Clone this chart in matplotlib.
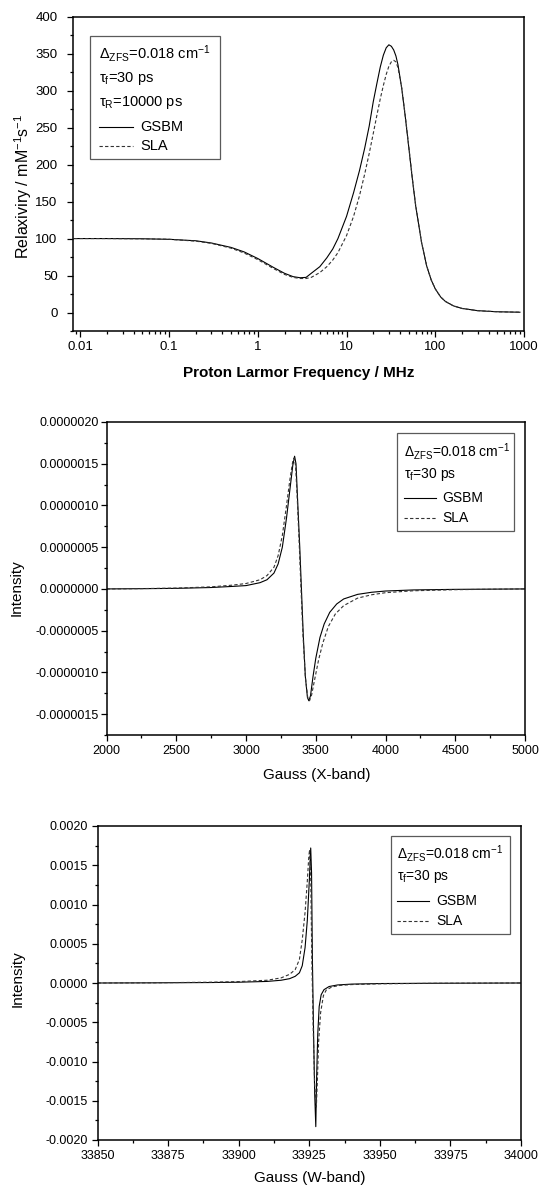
import matplotlib

matplotlib.use("Agg")
import matplotlib.pyplot as plt
from matplotlib.lines import Line2D
from matplotlib.patches import Rectangle
from matplotlib.ticker import FormatStrFormatter, FuncFormatter, LogLocator, MultipleLocator, NullFormatter

plt.rcParams["font.family"] = ["Liberation Sans", "DejaVu Sans"]
plt.rcParams["mathtext.fontset"] = "custom"
plt.rcParams["mathtext.rm"] = "Liberation Sans"
plt.rcParams["mathtext.it"] = "Liberation Sans:italic"
plt.rcParams["axes.unicode_minus"] = False

# --- NMRD profile (top panel) ---
freq_mhz = [0.0085, 0.02, 0.05, 0.1, 0.2, 0.3, 0.5, 0.7, 1.0, 1.5, 2.0, 2.5, 3.0, 3.5, 4, 5, 6, 7, 8,
            10, 12, 14, 16, 18, 20, 22, 24, 26, 28, 30, 32, 34, 36, 38, 42, 46, 50, 55, 60, 70, 80,
            90, 100, 115, 130, 160, 200, 300, 500, 900]
relax_gsbm = [100, 100, 99.7, 99, 97, 94, 88, 82, 73, 61, 53, 48.5, 47, 47.5, 53, 62, 74, 86, 100,
              130, 162, 192, 222, 252, 285, 310, 332, 348, 358, 362, 360, 355, 347, 335, 302, 264, 226,
              182, 145, 95, 63, 44, 32, 21, 15, 9, 5.5, 2.5, 1, 0.4]
relax_sla = [100, 100, 99.7, 99, 96.5, 93.5, 87, 80.5, 71.5, 59.5, 51.5, 47.5, 46, 46, 47.5, 54, 62, 71,
             81, 104, 130, 158, 187, 215, 242, 267, 289, 307, 322, 333, 339, 341, 339, 331, 303, 265,
             227, 183, 146, 95, 63, 44, 32, 21, 15, 9, 5.5, 2.5, 1, 0.4]

# --- X-band EPR spectrum (middle panel), intensity in 1e-6 ---
xband_gauss_gsbm = [2000, 2250, 2500, 2750, 2900, 3000, 3100, 3150, 3200, 3230, 3260, 3290, 3315, 3335,
                    3348, 3358, 3370, 3385, 3397, 3410, 3425, 3440, 3450, 3462, 3480, 3500, 3530, 3560,
                    3600, 3650, 3700, 3800, 3900, 4000, 4200, 4500, 4800, 5000]
xband_gsbm = [0.0, 0.003, 0.007, 0.017, 0.030, 0.040, 0.075, 0.11, 0.19, 0.30, 0.50, 0.85, 1.20, 1.48,
              1.59, 1.50, 1.05, 0.50, 0.0, -0.55, -1.05, -1.30, -1.34, -1.28, -1.05, -0.83, -0.58, -0.42,
              -0.28, -0.18, -0.12, -0.065, -0.04, -0.025, -0.012, -0.005, -0.002, 0.0]
xband_gauss_sla = [2000, 2250, 2500, 2750, 2900, 3000, 3100, 3150, 3200, 3230, 3260, 3290, 3315, 3335,
                   3345, 3355, 3368, 3382, 3394, 3408, 3425, 3442, 3455, 3470, 3490, 3520, 3550, 3590,
                   3640, 3700, 3800, 3900, 4000, 4200, 4500, 4800, 5000]
xband_sla = [0.0, 0.004, 0.010, 0.025, 0.045, 0.065, 0.11, 0.16, 0.26, 0.40, 0.64, 1.00, 1.32, 1.53,
             1.57, 1.48, 1.05, 0.50, 0.0, -0.55, -1.05, -1.30, -1.34, -1.27, -1.10, -0.85, -0.65, -0.45,
             -0.30, -0.20, -0.11, -0.07, -0.045, -0.022, -0.009, -0.003, 0.0]

# --- W-band EPR spectrum (bottom panel), intensity in 1e-3 ---
wband_gauss_gsbm = [33850, 33870, 33890, 33900, 33910, 33915, 33918, 33920, 33921.5, 33922.5, 33923.5,
                    33924.3, 33925.0, 33925.5, 33925.8, 33926.1, 33926.5, 33926.9, 33927.3, 33927.6,
                    33928.0, 33928.5, 33929.2, 33930.2, 33932, 33935, 33940, 33950, 33970, 34000]
wband_gsbm = [0.0, 0.002, 0.006, 0.010, 0.020, 0.035, 0.055, 0.085, 0.13, 0.22, 0.45, 0.80, 1.30, 1.72,
              1.40, 0.30, -0.60, -1.40, -1.83, -1.20, -0.65, -0.30, -0.15, -0.085, -0.045, -0.025,
              -0.014, -0.007, -0.003, 0.0]
wband_gauss_sla = [33850, 33870, 33890, 33900, 33910, 33915, 33918, 33920, 33921.5, 33922.5, 33923.5,
                   33924.3, 33924.8, 33925.1, 33925.5, 33925.9, 33926.4, 33926.9, 33927.5, 33927.9,
                   33928.3, 33929.0, 33930, 33931, 33933, 33936, 33940, 33950, 33970, 34000]
wband_sla = [0.0, 0.003, 0.010, 0.018, 0.035, 0.065, 0.11, 0.17, 0.30, 0.55, 0.90, 1.30, 1.60, 1.70,
             1.35, 0.30, -0.60, -1.30, -1.58, -1.20, -0.75, -0.38, -0.16, -0.09, -0.05, -0.03, -0.02,
             -0.010, -0.004, 0.0]

series_names = ["GSBM", "SLA"]
param_lines_top = [r"$\mathrm{\Delta_{ZFS}}$=0.018 cm$^{-1}$", r"$\mathrm{τ_f}$=30 ps", r"$\mathrm{τ_R}$=10000 ps"]
param_lines_epr = [r"$\mathrm{\Delta_{ZFS}}$=0.018 cm$^{-1}$", r"$\mathrm{τ_f}$=30 ps"]

W, H = 540, 1185
SOLID = dict(color="black", lw=0.8, ls="-")
DASHED = dict(color="#333333", lw=0.8, ls=(0, (3, 2)))


def add_axes_px(fig, left, top, right, bottom):
    return fig.add_axes([left / W, 1 - bottom / H, (right - left) / W, (bottom - top) / H])


def style_axes(ax, ypad, labelsize=9):
    for spine in ax.spines.values():
        spine.set_linewidth(1.1)
    ax.tick_params(which="both", direction="out", top=False, right=False, width=0.9, labelsize=labelsize)
    ax.tick_params(which="major", length=4.3)
    ax.tick_params(which="minor", length=2.3)
    ax.tick_params(axis="y", pad=ypad)
    ax.tick_params(axis="x", pad=3)


def param_box(ax, box, text_x, rows_y, handle_x, label_x, params, fontsize):
    x0, y0, x1, y1 = box
    ax.add_patch(Rectangle((x0, y0), x1 - x0, y1 - y0, transform=ax.transAxes, fill=False,
                           edgecolor="#5a5a5a", lw=0.9, zorder=5))
    for y, txt in zip(rows_y, params):
        ax.text(text_x, y, txt, transform=ax.transAxes, fontsize=fontsize, va="center", ha="left")
    for y, name, style in zip(rows_y[len(params):], series_names, [SOLID, DASHED]):
        ax.add_line(Line2D(handle_x, [y, y], transform=ax.transAxes, **style))
        ax.text(label_x, y, name, transform=ax.transAxes, fontsize=fontsize, va="center", ha="left")


fig = plt.figure(figsize=(W / 100, H / 100), dpi=100)

# top panel
ax1 = add_axes_px(fig, 72.7, 16.7, 524, 331)
ax1.plot(freq_mhz, relax_gsbm, **SOLID)
ax1.plot(freq_mhz, relax_sla, **DASHED)
ax1.set_xscale("log")
ax1.set_xlim(0.0082, 1000)
ax1.set_ylim(-25, 400)
ax1.yaxis.set_major_locator(MultipleLocator(50))
ax1.yaxis.set_minor_locator(MultipleLocator(25))
ax1.xaxis.set_major_locator(LogLocator(base=10, numticks=12))
ax1.xaxis.set_minor_locator(LogLocator(base=10, subs=range(2, 10), numticks=12))
ax1.xaxis.set_major_formatter(FuncFormatter(lambda v, _: f"{v:g}"))
ax1.xaxis.set_minor_formatter(NullFormatter())
style_axes(ax1, ypad=6.5, labelsize=9.5)
ax1.set_xlabel("Proton Larmor Frequency / MHz", fontsize=11, fontweight="bold")
ax1.set_ylabel(r"Relaxiviry / mM$^{-1}$s$^{-1}$", fontsize=11.5)
ax1.xaxis.set_label_coords(0.5, -0.135)
ax1.yaxis.set_label_coords(-0.11, 0.46)
ax1.xaxis.label.set_va("center")
ax1.yaxis.label.set_va("center")
param_box(ax1, (0.0377, 0.547, 0.3263, 0.9386), 0.0574,
          [0.8814, 0.8018, 0.7255, 0.6491, 0.5886], [0.0583, 0.1336], 0.149, param_lines_top, 10.5)

# middle panel
ax2 = add_axes_px(fig, 106.6, 422, 525, 735)
ax2.plot(xband_gauss_gsbm, [v * 1e-6 for v in xband_gsbm], **SOLID)
ax2.plot(xband_gauss_sla, [v * 1e-6 for v in xband_sla], **DASHED)
ax2.set_xlim(2000, 5000)
ax2.set_ylim(-1.75e-6, 2.0e-6)
ax2.xaxis.set_major_locator(MultipleLocator(500))
ax2.xaxis.set_minor_locator(MultipleLocator(250))
ax2.yaxis.set_major_locator(MultipleLocator(0.5e-6))
ax2.yaxis.set_minor_locator(MultipleLocator(0.25e-6))
ax2.yaxis.set_major_formatter(FormatStrFormatter("%.7f"))
style_axes(ax2, ypad=1.5)
ax2.set_xlabel("Gauss (X-band)", fontsize=11)
ax2.set_ylabel("Intensity", fontsize=11)
ax2.xaxis.set_label_coords(0.502, -0.128)
ax2.yaxis.set_label_coords(-0.216, 0.47)
ax2.xaxis.label.set_va("center")
ax2.yaxis.label.set_va("center")
param_box(ax2, (0.6934, 0.6518, 0.9746, 0.9649), 0.7098,
          [0.9073, 0.8307, 0.7572, 0.6933], [0.7098, 0.7863], 0.8027, param_lines_epr, 10)

# bottom panel
ax3 = add_axes_px(fig, 97.6, 826, 521, 1140)
ax3.plot(wband_gauss_gsbm, [v * 1e-3 for v in wband_gsbm], **SOLID)
ax3.plot(wband_gauss_sla, [v * 1e-3 for v in wband_sla], **DASHED)
ax3.set_xlim(33850, 34000)
ax3.set_ylim(-0.002, 0.002)
ax3.xaxis.set_major_locator(MultipleLocator(25))
ax3.xaxis.set_minor_locator(MultipleLocator(12.5))
ax3.yaxis.set_major_locator(MultipleLocator(0.0005))
ax3.yaxis.set_minor_locator(MultipleLocator(0.00025))
ax3.yaxis.set_major_formatter(FormatStrFormatter("%.4f"))
ax3.xaxis.set_major_formatter(FormatStrFormatter("%d"))
style_axes(ax3, ypad=3)
ax3.set_xlabel("Gauss (W-band)", fontsize=11)
ax3.set_ylabel("Intensity", fontsize=11)
ax3.xaxis.set_label_coords(0.5, -0.121)
ax3.yaxis.set_label_coords(-0.189, 0.513)
ax3.xaxis.label.set_va("center")
ax3.yaxis.label.set_va("center")
param_box(ax3, (0.6918, 0.656, 0.9741, 0.9682), 0.708,
          [0.914, 0.8376, 0.7611, 0.6975], [0.708, 0.783], 0.799, param_lines_epr, 10)

fig.savefig("out.png", dpi=100)
